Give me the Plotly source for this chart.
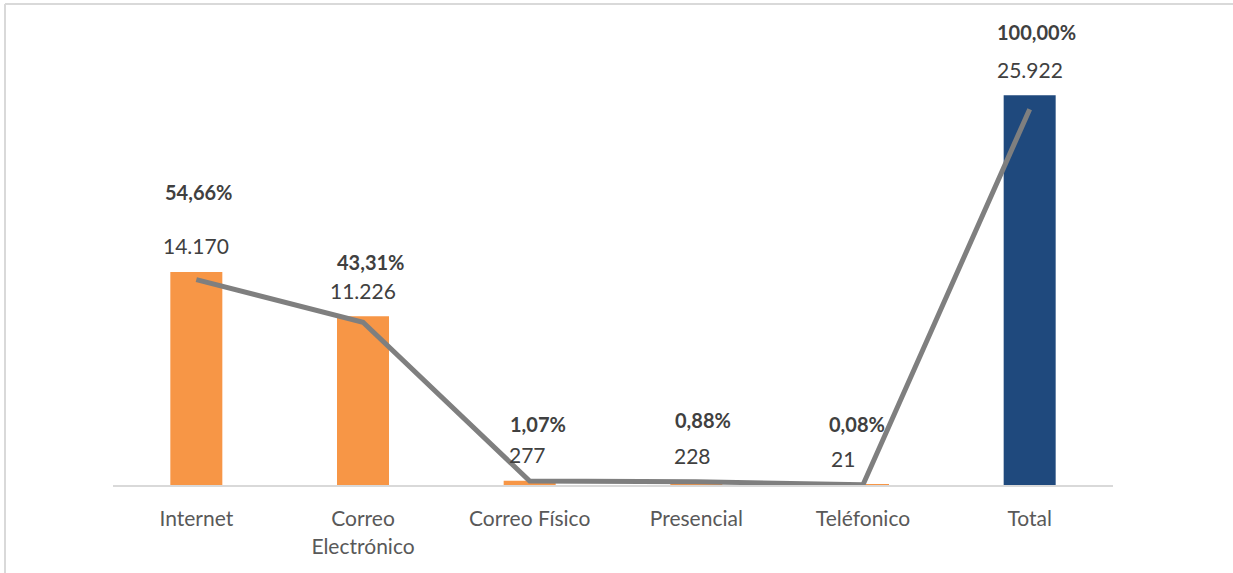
import plotly.graph_objects as go

categories = ["Internet", "Correo<br>Electrónico", "Correo Físico", "Presencial", "Teléfonico", "Total"]
counts = [14170, 11226, 277, 228, 21, 25922]
percents = [54.66, 43.31, 1.07, 0.88, 0.08, 100.00]
count_labels = ["14.170", "11.226", "277", "228", "21", "25.922"]
pct_labels = ["54,66%", "43,31%", "1,07%", "0,88%", "0,08%", "100,00%"]

bar_colors = ["#F79646"] * 5 + ["#1F497D"]
# label offsets (pixels), styling only
count_dx = [0, 0, -2, -4, -20, 0]
pct_dx = [2, 7, 8, 7, -6, 7]
pct_dy = [88, 60, 57, 62, 61, 77]

FONT = "Lato"

fig = go.Figure()
fig.add_trace(go.Bar(x=categories, y=counts, marker=dict(color=bar_colors, line=dict(width=0)),
                     showlegend=False, hoverinfo="skip"))
fig.add_trace(go.Scatter(x=categories, y=percents, yaxis="y2", mode="lines",
                         line=dict(color="#7F7F7F", width=5), showlegend=False,
                         hoverinfo="skip", cliponaxis=False))

annotations = []
for i, c in enumerate(categories):
    annotations.append(dict(x=c, y=counts[i], xref="x", yref="y", text=count_labels[i],
                            showarrow=False, yshift=26, xshift=count_dx[i],
                            font=dict(family=FONT, size=21, color="#404040")))
    annotations.append(dict(x=c, y=percents[i], xref="x", yref="y2", text="<b>" + pct_labels[i] + "</b>",
                            showarrow=False, yshift=pct_dy[i], xshift=pct_dx[i],
                            font=dict(family=FONT, size=20, color="#404040")))

shapes = [
    dict(type="line", xref="paper", yref="paper", x0=-0.108, x1=1.2, y0=1.0665, y1=1.0665,
         line=dict(color="#D9D9D9", width=2)),
    dict(type="line", xref="paper", yref="paper", x0=-0.108, x1=-0.108, y0=1.0665, y1=-0.3,
         line=dict(color="#D9D9D9", width=2)),
]

fig.update_layout(
    width=1233, height=573,
    margin=dict(l=113, r=120, t=34, b=88),
    paper_bgcolor="white", plot_bgcolor="white",
    bargap=0.688,
    xaxis=dict(showline=True, linecolor="#D9D9D9", linewidth=2, ticks="", showgrid=False,
               tickfont=dict(family=FONT, size=21, color="#595959"), ticklabelstandoff=14),
    yaxis=dict(range=[0, 30000], visible=False, showgrid=False),
    yaxis2=dict(range=[0, 120], overlaying="y", visible=False, showgrid=False),
    annotations=annotations,
    shapes=shapes,
)

fig.write_html("out.html")
